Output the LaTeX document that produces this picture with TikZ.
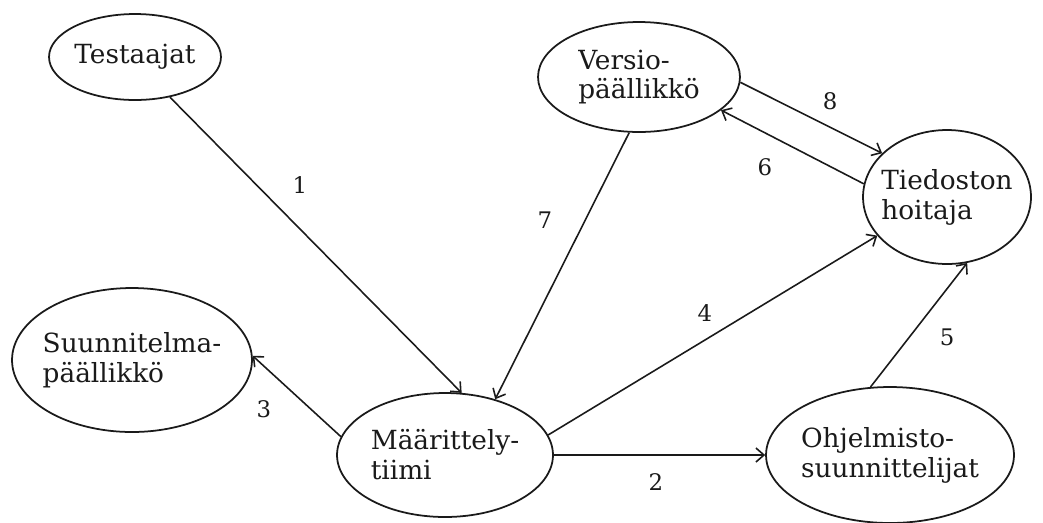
\documentclass[tikz,border=0pt]{standalone}
\usepackage{fontspec}
\setmainfont{DejaVu Serif}
\usetikzlibrary{arrows.meta,shapes.geometric}
\definecolor{ink}{HTML}{1A1A1A}
\tikzset{
  role/.style={draw=ink, ellipse, line width=1pt, inner sep=-5pt, align=left,
    text=ink, font=\fontsize{15}{17}\selectfont},
  flow/.style={draw=ink, line width=0.9pt, -{Straight Barb[length=1.6mm,width=2.8mm]}},
  num/.style={text=ink, font=\fontsize{13}{15}\selectfont}
}

\begin{document}
\begin{tikzpicture}[x=0.02cm,y=-0.02cm]
  \useasboundingbox (0,0) rectangle (1043,522);
  % roles
  \node[role, minimum width=3.44cm, minimum height=1.72cm] (tst) at (135,57) {Testaajat};
  \node[role, minimum width=4.04cm, minimum height=2.2cm] (ver) at (639,77) {Versio-\\päällikkö};
  \node[role, minimum width=3.36cm, minimum height=2.68cm] (tdh) at (947,197) {Tiedoston\\hoitaja};
  \node[role, minimum width=4.8cm, minimum height=2.88cm] (spl) at (132,360) {Suunnitelma-\\päällikkö};
  \node[role, minimum width=4.32cm, minimum height=2.48cm] (mrt) at (445,455) {Määrittely-\\tiimi};
  \node[role, minimum width=4.96cm, minimum height=2.72cm] (ohj) at (890,455) {Ohjelmisto-\\suunnittelijat};
  % flows
  \draw[flow] (tst.-49) -- (mrt.75);
  \draw[flow] (mrt.0) -- (ohj.180);
  \draw[flow] (mrt.170) -- (spl.2);
  \draw[flow] (mrt.11) -- (tdh.-151);
  \draw[flow] (ohj.106) -- (tdh.-73);
  \draw[flow] (tdh.171) -- (ver.-22);
  \draw[flow] (ver.-100) -- (mrt.48);
  \draw[flow] (ver.-3) -- (tdh.146);
  % numbers
  \node[num] (n1) at (300,185) {1};
  \node[num] (n2) at (656,482) {2};
  \node[num] (n3) at (264,409) {3};
  \node[num] (n4) at (705,313) {4};
  \node[num] (n5) at (947,337) {5};
  \node[num] (n6) at (765,167) {6};
  \node[num] (n7) at (545,220) {7};
  \node[num] (n8) at (830,101) {8};
\end{tikzpicture}
\end{document}
